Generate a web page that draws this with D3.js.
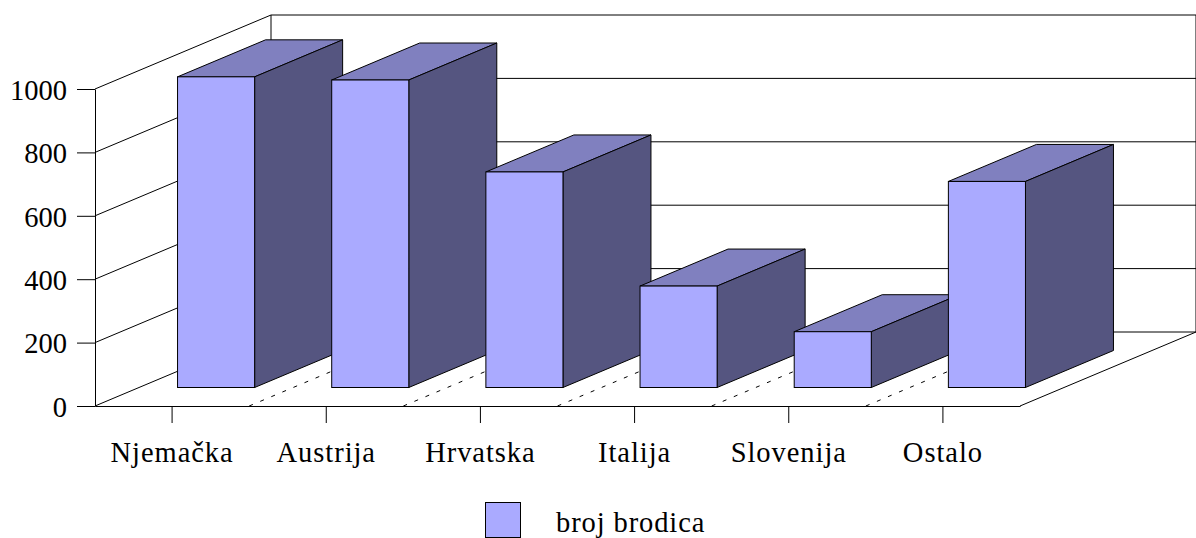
<!DOCTYPE html>
<html>
<head>
<meta charset="utf-8">
<script src="https://cdn.jsdelivr.net/npm/d3@7"></script>
<style>
  body { margin: 0; background: #fff; }
  text { font-family: "Liberation Serif", serif; fill: #000; }
</style>
</head>
<body>
<script>
const categories = ["Njemačka", "Austrija", "Hrvatska", "Italija", "Slovenija", "Ostalo"];
const values = [980, 970, 680, 320, 176, 650];
const yTicks = [0, 200, 400, 600, 800, 1000];
const seriesName = "broj brodica";

const width = 1196, height = 538;
// how far the back wall is shifted from the front plane
const depthX = 176, depthY = -74;

const svg = d3.select("body").append("svg")
    .attr("width", width)
    .attr("height", height)
    .style("display", "block");

const x = d3.scaleBand().domain(categories).range([95, 1020]);
const y = d3.scaleLinear().domain([0, 1000]).range([406, 89]);
const band = x.bandwidth();

const line = (x1, y1, x2, y2) => svg.append("line")
    .attr("x1", x1).attr("y1", y1)
    .attr("x2", x2).attr("y2", y2)
    .attr("stroke", "#000");

// Left wall and back wall grid lines
yTicks.forEach(t => {
    line(95, y(t), 95 + depthX, y(t) + depthY);
    line(95 + depthX, y(t) + depthY, 1020 + depthX, y(t) + depthY);
});
line(95 + depthX, y(0) + depthY, 95 + depthX, y(1000) + depthY);
line(1020 + depthX, y(0) + depthY, 1020 + depthX, y(1000) + depthY);
// Floor right edge
line(1020, y(0), 1020 + depthX, y(0) + depthY);

// Floor lines between categories
categories.slice(1).forEach(c => {
    line(x(c), y(0), x(c) + depthX, y(0) + depthY)
        .attr("stroke-dasharray", "4 8");
});

// Bars: front, top and side faces
const bars = svg.selectAll("g.bar")
    .data(categories.map((c, i) => ({ c, v: values[i] })))
    .enter()
    .append("g")
    .attr("class", "bar");

const x0 = d => x(d.c) + band / 4 + depthX / 4;
const x1 = d => x0(d) + band / 2;
const yBase = y(0) + depthY / 4;
const yTop = d => y(d.v) + depthY / 4;
const ox = depthX / 2, oy = depthY / 2;
const pts = arr => arr.map(p => p.join(",")).join(" ");

bars.append("polygon")
    .attr("points", d => pts([[x0(d), yTop(d)], [x1(d), yTop(d)], [x1(d) + ox, yTop(d) + oy], [x0(d) + ox, yTop(d) + oy]]))
    .attr("fill", "#8080bf")
    .attr("stroke", "#000");

bars.append("polygon")
    .attr("points", d => pts([[x1(d), yTop(d)], [x1(d) + ox, yTop(d) + oy], [x1(d) + ox, yBase + oy], [x1(d), yBase]]))
    .attr("fill", "#555580")
    .attr("stroke", "#000");

bars.append("rect")
    .attr("x", x0)
    .attr("y", yTop)
    .attr("width", band / 2)
    .attr("height", d => yBase - yTop(d))
    .attr("fill", "#aaaaff")
    .attr("stroke", "#000");

// Axes
const yAxis = svg.append("g")
    .attr("transform", "translate(95,0)")
    .call(d3.axisLeft(y).tickValues(yTicks).tickFormat(d3.format("d")).tickSize(18).tickSizeOuter(0).tickPadding(10));
yAxis.selectAll("text")
    .attr("dy", "0.36em")
    .style("font-size", "28.5px")
    .style("font-family", '"Liberation Serif", serif');

const xAxis = svg.append("g")
    .attr("transform", `translate(0,${y(0)})`)
    .call(d3.axisBottom(x).tickSize(17).tickSizeOuter(0));
xAxis.selectAll("text")
    .attr("y", 56)
    .attr("dy", 0)
    .style("font-size", "28.5px")
    .style("letter-spacing", "0.95px")
    .style("font-family", '"Liberation Serif", serif');
svg.selectAll(".domain, .tick line").attr("stroke", "#000");

// Legend
svg.append("rect")
    .attr("x", 485.5)
    .attr("y", 502.5)
    .attr("width", 35)
    .attr("height", 35)
    .attr("fill", "#aaaaff")
    .attr("stroke", "#000");
svg.append("text")
    .attr("x", 556)
    .attr("y", 531.5)
    .style("font-size", "28.5px")
    .style("letter-spacing", "0.9px")
    .text(seriesName);
</script>
</body>
</html>
